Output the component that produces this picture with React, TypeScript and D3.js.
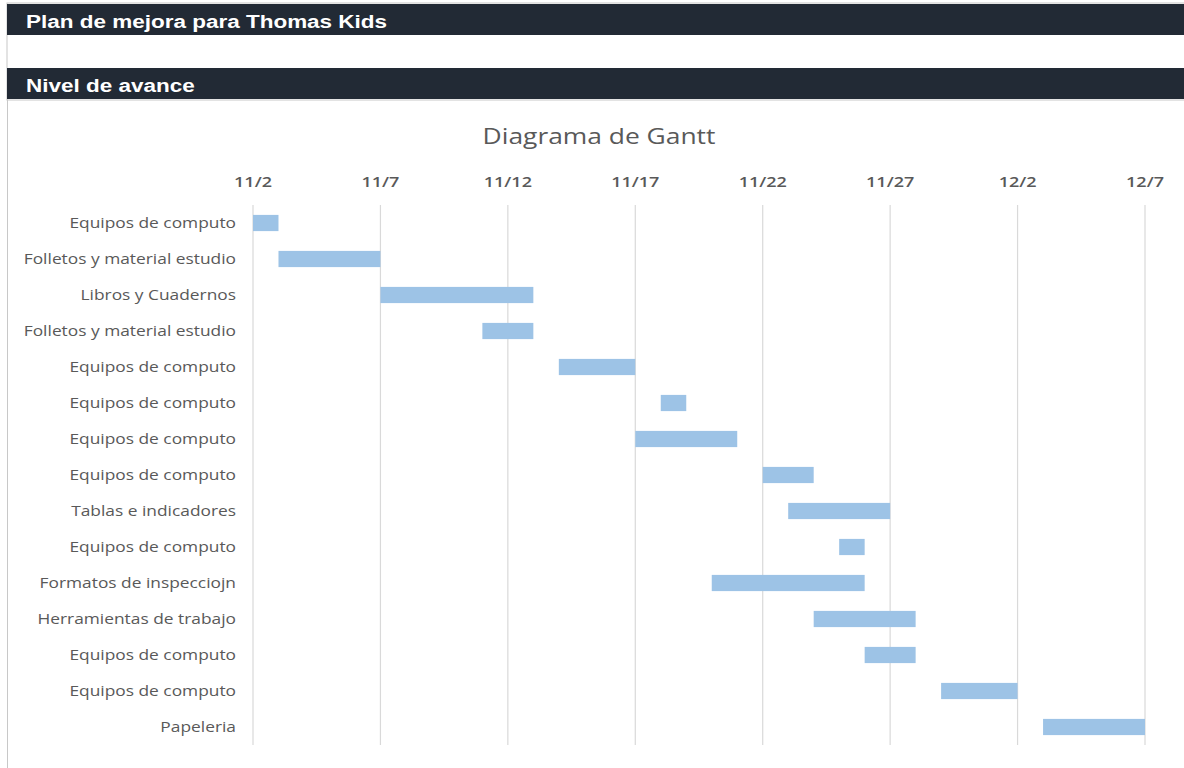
import { useEffect, useRef } from 'react';
import * as d3 from 'd3';

// tasks, top to bottom
const tasks = [
	"Equipos de computo",
	"Folletos y material estudio",
	"Libros y Cuadernos",
	"Folletos y material estudio",
	"Equipos de computo",
	"Equipos de computo",
	"Equipos de computo",
	"Equipos de computo",
	"Tablas e indicadores",
	"Equipos de computo",
	"Formatos de inspecciojn",
	"Herramientas de trabajo",
	"Equipos de computo",
	"Equipos de computo",
	"Papeleria",
];
const starts = ["11/2", "11/3", "11/7", "11/11", "11/14", "11/18", "11/17", "11/22", "11/23", "11/25", "11/20", "11/24", "11/26", "11/29", "12/3"];
const durations = [1, 4, 6, 2, 3, 1, 4, 2, 4, 1, 6, 4, 2, 3, 4];
const tickLabels = ["11/2", "11/7", "11/12", "11/17", "11/22", "11/27", "12/2", "12/7"];

const year = 2020;
const parse = (s: string) => {
	const [m, d] = s.split("/").map(Number);
	return new Date(year, m - 1, d);
};

export default function App() {
	const ref = useRef<SVGSVGElement>(null);

	useEffect(() => {
		const width = 1184;
		const height = 768;
		const svg = d3.select(ref.current);
		svg.selectAll("*").remove();

		// the source screenshot is stretched sideways a bit
		const stretch = (x: number, y: number, s = 1.24) => `translate(${x},${y}) scale(${s},1)`;

		// header bands
		const headers = [
			{text: "Plan de mejora para Thomas Kids", y: 4},
			{text: "Nivel de avance", y: 68},
		];
		svg.append("rect").attr("x", 7).attr("y", 3).attr("width", width).attr("height", 97)
			.attr("fill", "none").attr("stroke", "#c8c8c8");
		headers.forEach(h => {
			svg.append("rect").attr("x", 7).attr("y", h.y).attr("width", width - 7).attr("height", 31)
				.attr("fill", "#222a35");
			svg.append("text").attr("transform", stretch(26, h.y + 24, 1.25))
				.attr("fill", "#ffffff").attr("font-family", "Liberation Sans, Arial, sans-serif")
				.attr("font-weight", "bold").attr("font-size", 18)
				.text(h.text);
		});
		// chart frame left edge
		svg.append("line").attr("x1", 7.5).attr("x2", 7.5).attr("y1", 100).attr("y2", height)
			.attr("stroke", "#c8c8c8");

		const x = d3.scaleTime()
			.domain([parse(tickLabels[0]), parse(tickLabels[tickLabels.length - 1])])
			.range([253, 1145]);

		const y = d3.scaleBand<number>()
			.domain(d3.range(tasks.length))
			.range([205, 745])
			.paddingInner(0.55)
			.paddingOuter(0.275);

		const font = "Open Sans, sans-serif";

		svg.append("text").attr("transform", stretch(599, 144, 1.2)).attr("text-anchor", "middle")
			.attr("font-family", font).attr("font-size", 22)
			.attr("fill", "#595959").text("Diagrama de Gantt");

		// gridlines
		svg.append("g")
			.selectAll("line")
			.data(tickLabels)
			.join("line")
			.attr("x1", d => x(parse(d)))
			.attr("x2", d => x(parse(d)))
			.attr("y1", 205)
			.attr("y2", 745)
			.attr("stroke", "#d9d9d9")
			.attr("stroke-width", 1.2);

		// top axis labels
		svg.append("g")
			.selectAll("text")
			.data(tickLabels)
			.join("text")
			.attr("transform", d => stretch(x(parse(d)), 187, 1.2))
			.attr("text-anchor", "middle")
			.attr("font-family", font)
			.attr("font-size", 15)
			.attr("font-weight", 600)
			.attr("fill", "#595959")
			.text(d => d);

		// bars
		svg.append("g")
			.attr("fill", "#9dc3e6")
			.selectAll("rect")
			.data(d3.range(tasks.length))
			.join("rect")
			.attr("x", i => x(parse(starts[i])))
			.attr("y", i => y(i)!)
			.attr("width", i => x(d3.timeDay.offset(parse(starts[i]), durations[i])) - x(parse(starts[i])))
			.attr("height", y.bandwidth());

		// category labels
		svg.append("g")
			.selectAll("text")
			.data(d3.range(tasks.length))
			.join("text")
			.attr("transform", i => stretch(236, y(i)! + y.bandwidth() / 2))
			.attr("dy", "0.35em")
			.attr("text-anchor", "end")
			.attr("font-family", font)
			.attr("font-size", 14)
			.attr("fill", "#595959")
			.text(i => tasks[i]);
	}, []);

	return (
		<svg ref={ref} width={1184} height={768}
			style={{position: "absolute", left: 0, top: 0, background: "#fff"}} />
	);
}
